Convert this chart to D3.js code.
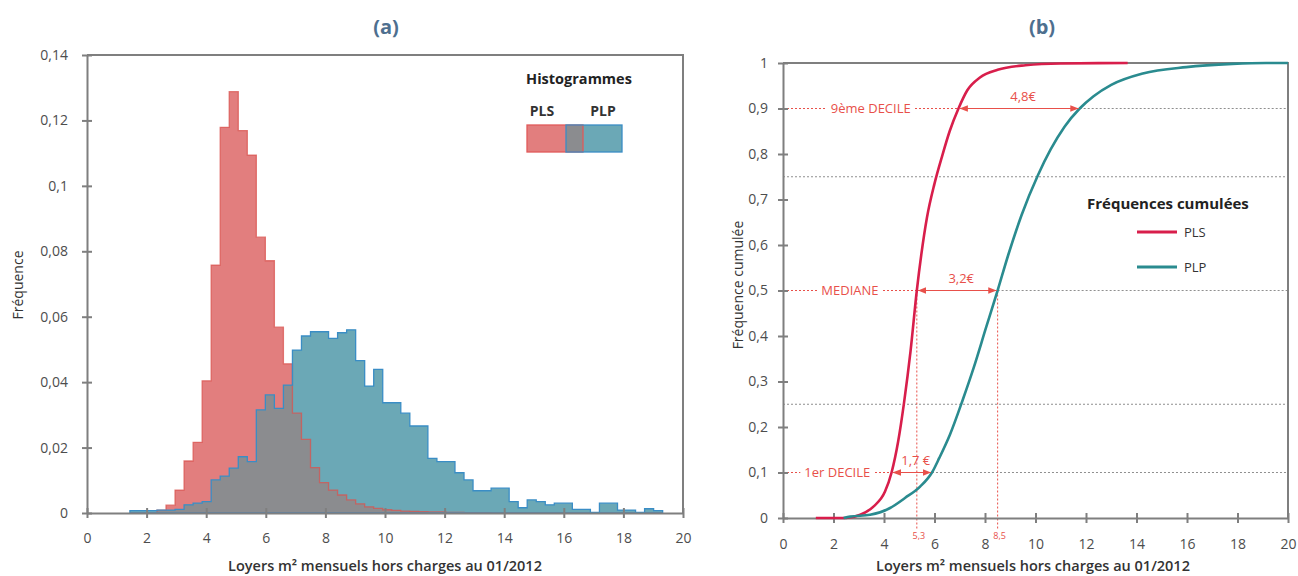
<!DOCTYPE html>
<html>
<head>
<meta charset="utf-8">
<script src="https://cdn.jsdelivr.net/npm/d3@7"></script>
<style>
  body { margin: 0; background: #fff; }
  text { font-family: "Open Sans", sans-serif; }
</style>
</head>
<body>
<svg id="chart" width="1298" height="576"></svg>
<script>
!function () {
  'use strict';

  // histogram classes (loyer au m2), 59 classes of equal width
  var binEdges = d3.range(60).map(function (i) { return 1.44 + i * 0.303; });

  var plsFreq = [
    0, 0, 0, 0.0009, 0.0024, 0.007, 0.0159, 0.0216, 0.0404, 0.0758,
    0.1179, 0.1288, 0.1169, 0.1094, 0.0843, 0.0771, 0.0568, 0.0456, 0.0305, 0.0225,
    0.0139, 0.0093, 0.007, 0.0055, 0.004, 0.0028, 0.0019, 0.0014, 0.001, 0.0008,
    0.0006, 0.0005, 0.0004, 0.0003, 0.0003, 0.0002, 0.0002, 0.0001, 0.0001, 0.0001,
    0, 0, 0, 0, 0, 0, 0, 0, 0, 0,
    0, 0, 0, 0, 0, 0, 0, 0, 0
  ];

  var plpFreq = [
    0.0007, 0.0007, 0.0007, 0.0009, 0.0009, 0.0011, 0.0025, 0.003, 0.0035, 0.0101,
    0.0113, 0.0137, 0.0172, 0.0157, 0.0315, 0.0361, 0.032, 0.0391, 0.0498, 0.0541,
    0.0554, 0.0554, 0.0534, 0.0551, 0.056, 0.0466, 0.0388, 0.0439, 0.0337, 0.0337,
    0.0305, 0.0266, 0.0266, 0.0167, 0.0157, 0.0157, 0.0123, 0.0101, 0.0068, 0.0068,
    0.0076, 0.0076, 0.0035, 0.0016, 0.004, 0.0035, 0.0025, 0.003, 0.003, 0.0011,
    0.0011, 0.0002, 0.003, 0.003, 0.0009, 0.0009, 0.0002, 0.0013, 0.0007
  ];

  // cumulative frequencies [loyer, frequence cumulee]
  var plsCumul = [
    [1.3, 0], [2.5, 0], [3.06, 0.007], [3.58, 0.025], [4.04, 0.058], [4.3, 0.1],
    [4.56, 0.168], [4.79, 0.252], [5.05, 0.366], [5.3, 0.5], [5.48, 0.58],
    [5.7, 0.66], [6.0, 0.735], [6.3, 0.795], [6.6, 0.85], [6.95, 0.9], [7.3, 0.94],
    [7.8, 0.968], [8.5, 0.985], [9.6, 0.995], [11, 0.999], [13.65, 1]
  ];

  var plpCumul = [
    [2.4, 0], [2.66, 0.003], [3.45, 0.007], [4.24, 0.022], [4.83, 0.044],
    [5.43, 0.069], [5.9, 0.1], [6.19, 0.132], [6.61, 0.183], [7.12, 0.26],
    [7.55, 0.33], [8.05, 0.42], [8.5, 0.5], [8.92, 0.578], [9.45, 0.666],
    [10.1, 0.754], [10.6, 0.81], [11.15, 0.86], [11.75, 0.9], [12.3, 0.927],
    [13.0, 0.952], [14.25, 0.977], [15.97, 0.991], [17.8, 0.998], [19.13, 1], [20, 1]
  ];

  var deciles = [
    { label: "1er DECILE", p: 0.1, pls: 4.3, plp: 5.9, gap: "1,7 €" },
    { label: "MEDIANE", p: 0.5, pls: 5.3, plp: 8.5, gap: "3,2€" },
    { label: "9ème DECILE", p: 0.9, pls: 6.95, plp: 11.75, gap: "4,8€" }
  ];
  var medians = [5.3, 8.5];
  var quartiles = [0.25, 0.75];

  var xTicks = [0, 2, 4, 6, 8, 10, 12, 14, 16, 18, 20];
  var yTicksA = [0, 0.02, 0.04, 0.06, 0.08, 0.1, 0.12, 0.14];
  var yTicksB = [0, 0.1, 0.2, 0.3, 0.4, 0.5, 0.6, 0.7, 0.8, 0.9, 1];

  var RED = "#e8504a", AXIS = "#7f7f7f", LABEL = "#4d4d4d";

  var frNum = function (v) { return String(+v.toFixed(2)).replace(".", ","); };

  var svg = d3.select("#chart");

  svg.append("defs").selectAll("marker")
    .data(["start", "end"])
    .enter().append("marker")
    .attr("id", function (d) { return "arrow-" + d; })
    .attr("viewBox", "0 0 10 10")
    .attr("refX", 10).attr("refY", 5)
    .attr("markerWidth", 7).attr("markerHeight", 7)
    .attr("orient", function (d) { return d === "end" ? "auto" : "auto-start-reverse"; })
    .append("path")
    .attr("d", "M0,1L10,5L0,9Z")
    .attr("fill", RED);

  function drawFrame (g, x, y, yTicks, labelOffset, xLabelY) {
    var x0 = x.range()[0], x1 = x.range()[1];
    var y0 = y.range()[0], y1 = y.range()[1];

    var xa = g.append("g")
      .attr("transform", "translate(0," + y0 + ")")
      .call(d3.axisBottom(x).tickValues(xTicks).tickSize(5).tickSizeOuter(0).tickPadding(xLabelY));
    xa.selectAll(".tick line").attr("y1", -5);

    var ya = g.append("g")
      .attr("transform", "translate(" + x0 + ",0)")
      .call(d3.axisLeft(y).tickValues(yTicks).tickFormat(frNum).tickSize(5).tickSizeOuter(0).tickPadding(labelOffset));
    ya.selectAll(".tick line").attr("x1", 5);

    g.selectAll(".domain, .tick line")
      .attr("stroke", AXIS).attr("stroke-width", 2);
    g.selectAll(".tick text")
      .attr("fill", LABEL).style("font-size", "14px").style("font-family", "Open Sans");

    g.append("path")
      .attr("d", "M" + x0 + "," + y1 + "H" + x1 + "V" + y0)
      .attr("fill", "none").attr("stroke", AXIS).attr("stroke-width", 2);
  }

  // ---------- (a) histograms ----------
  var xa = d3.scaleLinear().domain([0, 20]).range([87, 683]);
  var ya = d3.scaleLinear().domain([0, 0.14]).range([513, 55]);

  var steps = function (freq) {
    return binEdges.map(function (e, i) { return [e, freq[Math.min(i, freq.length - 1)]]; });
  };
  var overlap = plsFreq.map(function (v, i) { return Math.min(v, plpFreq[i]); });

  var area = d3.area()
    .x(function (d) { return xa(d[0]); })
    .y0(ya(0))
    .y1(function (d) { return ya(d[1]); })
    .curve(d3.curveStepAfter);

  var gA = svg.append("g");

  gA.append("path").attr("d", area(steps(plsFreq))).attr("fill", "#e27e7e");
  gA.append("path").attr("d", area(steps(plpFreq))).attr("fill", "#6ba8b6");
  gA.append("path").attr("d", area(steps(overlap))).attr("fill", "#8b8c8f");
  gA.append("path").attr("d", area(steps(plsFreq)))
    .attr("fill", "none").attr("stroke", "#d9534f").attr("stroke-opacity", 0.75).attr("stroke-width", 1.3);
  gA.append("path").attr("d", area(steps(plpFreq)))
    .attr("fill", "none").attr("stroke", "#3a8dc5").attr("stroke-width", 1.3);

  drawFrame(gA, xa, ya, yTicksA, 14, 15);

  // legend
  gA.append("rect").attr("x", 527).attr("y", 125).attr("width", 56).attr("height", 27).attr("fill", "#e27e7e");
  gA.append("rect").attr("x", 566).attr("y", 125).attr("width", 56).attr("height", 27).attr("fill", "#6ba8b6");
  gA.append("rect").attr("x", 566).attr("y", 125).attr("width", 17).attr("height", 27).attr("fill", "#8b8c8f");
  gA.append("rect").attr("x", 527).attr("y", 125).attr("width", 56).attr("height", 27)
    .attr("fill", "none").attr("stroke", "#e05a5a").attr("stroke-width", 1.3);
  gA.append("rect").attr("x", 566).attr("y", 125).attr("width", 56).attr("height", 27)
    .attr("fill", "none").attr("stroke", "#3a8dc5").attr("stroke-width", 1.3);

  gA.append("text").attr("x", 579).attr("y", 84).attr("text-anchor", "middle")
    .style("font-size", "14.5px").style("font-weight", "bold").attr("fill", "#222").text("Histogrammes");
  gA.selectAll("text.leg")
    .data([["PLS", 542], ["PLP", 603]])
    .enter().append("text")
    .attr("class", "leg")
    .attr("x", function (d) { return d[1]; }).attr("y", 116)
    .attr("text-anchor", "middle")
    .style("font-size", "14px").style("font-weight", "bold").attr("fill", "#333")
    .text(function (d) { return d[0]; });

  // ---------- (b) cumulative frequencies ----------
  var xb = d3.scaleLinear().domain([0, 20]).range([783, 1288]);
  var yb = d3.scaleLinear().domain([0, 1]).range([518, 63]);

  var gB = svg.append("g");

  var hline = function (p, from, to, color) {
    gB.append("line")
      .attr("x1", xb(from)).attr("x2", xb(to))
      .attr("y1", yb(p)).attr("y2", yb(p))
      .attr("stroke", color).attr("stroke-width", 1).attr("stroke-dasharray", "2,2");
  };

  quartiles.forEach(function (q) { hline(q, 0, 20, "#8f8f8f"); });
  deciles.forEach(function (d) {
    hline(d.p, d.plp, 20, "#8f8f8f");
    hline(d.p, 0, d.pls, RED);
  });

  gB.selectAll("line.med")
    .data(medians)
    .enter().append("line")
    .attr("class", "med")
    .attr("x1", function (d) { return xb(d); }).attr("x2", function (d) { return xb(d); })
    .attr("y1", yb(0.5)).attr("y2", yb(0) + 12)
    .attr("stroke", RED).attr("stroke-width", 1).attr("stroke-dasharray", "2,2");

  drawFrame(gB, xb, yb, yTicksB, 10, 16);

  gB.selectAll("text.medlab")
    .data(medians)
    .enter().append("text")
    .attr("class", "medlab")
    .attr("x", function (d) { return xb(d) + 2; }).attr("y", yb(0) + 21)
    .attr("text-anchor", "middle")
    .style("font-size", "9px").attr("fill", RED)
    .text(frNum);

  var line = d3.line()
    .x(function (d) { return xb(d[0]); })
    .y(function (d) { return yb(d[1]); })
    .curve(d3.curveMonotoneX);

  gB.append("path").attr("d", line(plsCumul))
    .attr("fill", "none").attr("stroke", "#d81e4b").attr("stroke-width", 2.6);
  gB.append("path").attr("d", line(plpCumul))
    .attr("fill", "none").attr("stroke", "#2a8b8f").attr("stroke-width", 2.6);

  // decile annotations
  deciles.forEach(function (d) {
    var lx = (xb(0) + xb(d.pls)) / 2;
    var t = gB.append("text")
      .attr("x", lx).attr("y", yb(d.p) + 4.5)
      .attr("text-anchor", "middle")
      .style("font-size", "13px").attr("fill", RED)
      .text(d.label);
    var bb = t.node().getBBox();
    gB.insert("rect", function () { return t.node(); })
      .attr("x", bb.x - 4).attr("y", bb.y).attr("width", bb.width + 8).attr("height", bb.height)
      .attr("fill", "#fff");

    gB.append("line")
      .attr("x1", xb(d.pls) + 1).attr("x2", xb(d.plp) - 1)
      .attr("y1", yb(d.p)).attr("y2", yb(d.p))
      .attr("stroke", RED).attr("stroke-width", 1.2)
      .attr("marker-start", "url(#arrow-start)")
      .attr("marker-end", "url(#arrow-end)");

    gB.append("text")
      .attr("x", (xb(d.pls) + xb(d.plp)) / 2 + 4).attr("y", yb(d.p) - 8)
      .attr("text-anchor", "middle")
      .style("font-size", "13px").attr("fill", RED)
      .text(d.gap);
  });

  // legend
  gB.append("text").attr("x", 1087).attr("y", 209)
    .style("font-size", "15px").style("font-weight", "bold").attr("fill", "#222")
    .text("Fréquences cumulées");
  gB.selectAll("g.leg")
    .data([["PLS", "#d81e4b", 232], ["PLP", "#2a8b8f", 267]])
    .enter().append("g")
    .attr("class", "leg")
    .each(function (d) {
      var g = d3.select(this);
      g.append("line").attr("x1", 1137).attr("x2", 1177).attr("y1", d[2]).attr("y2", d[2])
        .attr("stroke", d[1]).attr("stroke-width", 3);
      g.append("text").attr("x", 1184).attr("y", d[2] + 4.5)
        .style("font-size", "13px").attr("fill", "#333").text(d[0]);
    });

  // ---------- titles ----------
  svg.selectAll("text.panel")
    .data([["(a)", 386], ["(b)", 1042]])
    .enter().append("text")
    .attr("class", "panel")
    .attr("x", function (d) { return d[1]; }).attr("y", 34)
    .attr("text-anchor", "middle")
    .style("font-size", "20px").style("font-weight", "bold").attr("fill", "#4e6f8f")
    .text(function (d) { return d[0]; });

  svg.selectAll("text.xtitle")
    .data([385, 1033])
    .enter().append("text")
    .attr("class", "xtitle")
    .attr("x", function (d) { return d; }).attr("y", 571)
    .attr("text-anchor", "middle")
    .style("font-size", "14.5px").style("font-weight", "600").attr("fill", "#333")
    .text("Loyers m² mensuels hors charges au 01/2012");

  svg.selectAll("text.ytitle")
    .data([["Fréquence", 23], ["Fréquence cumulée", 743]])
    .enter().append("text")
    .attr("class", "ytitle")
    .attr("transform", function (d) { return "translate(" + d[1] + ",285) rotate(-90)"; })
    .attr("text-anchor", "middle")
    .style("font-size", "14px").attr("fill", "#333")
    .text(function (d) { return d[0]; });

}.call(this);
</script>
</body>
</html>
